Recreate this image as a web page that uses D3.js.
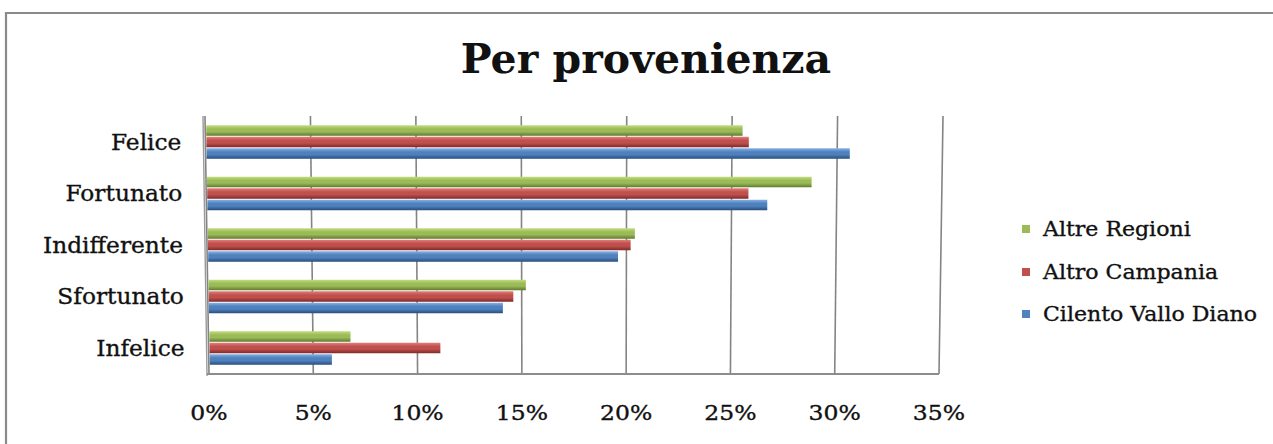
<!DOCTYPE html>
<html>
<head>
<meta charset="utf-8">
<script src="https://cdn.jsdelivr.net/npm/d3@7"></script>
<style>
  html, body { margin: 0; padding: 0; background: #fff; }
  svg { display: block; }
  text { font-family: "DejaVu Serif", "Liberation Serif", serif; fill: #111; }
  .thick { stroke: #111; stroke-width: 0.35px; }
</style>
</head>
<body>
<script>
// ---- data ----
const categories = ["Felice", "Fortunato", "Indifferente", "Sfortunato", "Infelice"];
const seriesNames = ["Altre Regioni", "Altro Campania", "Cilento Vallo Diano"];
const altreRegioni      = [0.255, 0.288, 0.204, 0.152, 0.068];
const altroCampania     = [0.258, 0.258, 0.202, 0.146, 0.111];
const cilentoValloDiano = [0.306, 0.267, 0.196, 0.141, 0.059];
const tickValues = [0, 0.05, 0.10, 0.15, 0.20, 0.25, 0.30, 0.35];
const tickLabels = ["0%", "5%", "10%", "15%", "20%", "25%", "30%", "35%"];
const title = "Per provenienza";

const seriesValues = [altreRegioni, altroCampania, cilentoValloDiano];
const colors = [
  { base: "#9bbb59", light: "#c3de7c", dark: "#5f7a2c" },
  { base: "#c0504d", light: "#e27f7c", dark: "#7e2a28" },
  { base: "#4f81bd", light: "#86b2e6", dark: "#284d7d" }
];

const W = 1273, H = 444;
const svg = d3.select("body").append("svg").attr("width", W).attr("height", H);

// gradients for cylinder-ish bars
const defs = svg.append("defs");
colors.forEach((c, i) => {
  const g = defs.append("linearGradient").attr("id", "g" + i)
    .attr("x1", 0).attr("y1", 0).attr("x2", 0).attr("y2", 1);
  g.append("stop").attr("offset", "0%").attr("stop-color", c.light);
  g.append("stop").attr("offset", "35%").attr("stop-color", c.base);
  g.append("stop").attr("offset", "60%").attr("stop-color", c.base);
  g.append("stop").attr("offset", "100%").attr("stop-color", c.dark);
});

// frame
svg.append("path").attr("d", `M6,${H + 5} L6,13 L${W + 5},13`)
  .attr("fill", "none").attr("stroke", "#8a8a8a").attr("stroke-width", 2.2);

// title
svg.append("text").attr("x", 646).attr("y", 73).attr("text-anchor", "middle")
  .style("font-size", "41px").style("font-weight", "bold").text(title);

// plot geometry (slight perspective: top and bottom ranges differ)
const yTop = 116, yBot = 374;
const xTop = d3.scaleLinear().domain([0, 0.35]).range([205, 943]);
const xBot = d3.scaleLinear().domain([0, 0.35]).range([209, 939]);
const xAt = (v, y) => d3.interpolateNumber(xTop(v), xBot(v))((y - yTop) / (yBot - yTop));

const y0 = d3.scaleBand().domain(categories).range([yTop, yBot]).paddingInner(0.33).paddingOuter(0.17);
const y1 = d3.scaleBand().domain(seriesNames).range([0, y0.bandwidth()]);

// gridlines
svg.append("g").selectAll("line").data(tickValues).join("line")
  .attr("x1", d => xTop(d)).attr("y1", yTop)
  .attr("x2", d => xBot(d)).attr("y2", yBot)
  .attr("stroke", "#848484").attr("stroke-width", 1.6);

// left wall (double line)
svg.append("line").attr("x1", xTop(0) - 2).attr("y1", yTop).attr("x2", xBot(0) - 2).attr("y2", yBot + 2)
  .attr("stroke", "#9a9a9a").attr("stroke-width", 1.4);
// floor
svg.append("line").attr("x1", xBot(0) - 2).attr("y1", yBot).attr("x2", xBot(0.35)).attr("y2", yBot)
  .attr("stroke", "#8c8c8c").attr("stroke-width", 2);

// bars
const groups = svg.append("g").selectAll("g").data(categories).join("g");
groups.each(function(cat, ci) {
  const g = d3.select(this);
  seriesNames.forEach((s, si) => {
    const v = seriesValues[si][ci];
    const yy = y0(cat) + y1(s);
    const yc = yy + y1.bandwidth() / 2;
    const xs = xAt(0, yc) + 1, xe = xAt(v, yc);
    g.append("rect").attr("x", xs).attr("y", yy + 0.5)
      .attr("width", xe - xs).attr("height", y1.bandwidth() - 1)
      .attr("fill", `url(#g${si})`);
  });
});

// category labels
svg.append("g").selectAll("text").data(categories).join("text")
  .attr("class", "thick")
  .attr("transform", d => `translate(${xAt(0, y0(d) + y0.bandwidth() / 2) - 24},${y0(d) + y0.bandwidth() / 2}) scale(1.06,1)`)
  .attr("dy", "0.35em").attr("text-anchor", "end")
  .style("font-size", "22px").text(d => d);

// tick labels
svg.append("g").selectAll("text").data(tickValues).join("text")
  .attr("class", "thick")
  .attr("transform", d => `translate(${xBot(d)},420) scale(1.12,1)`)
  .attr("text-anchor", "middle").style("font-size", "21px")
  .text((d, i) => tickLabels[i]);

// legend
const legendY = [229, 272, 314];
const lg = svg.append("g").selectAll("g").data(seriesNames).join("g")
  .attr("transform", (d, i) => `translate(1022,${legendY[i]})`);
lg.append("rect").attr("x", 0).attr("y", -4).attr("width", 8).attr("height", 8)
  .attr("fill", (d, i) => colors[i].base);
lg.append("text").attr("class", "thick")
  .attr("transform", "translate(21,0) scale(1.05,1)").attr("dy", "0.35em")
  .style("font-size", "21px").text(d => d);
</script>
</body>
</html>
